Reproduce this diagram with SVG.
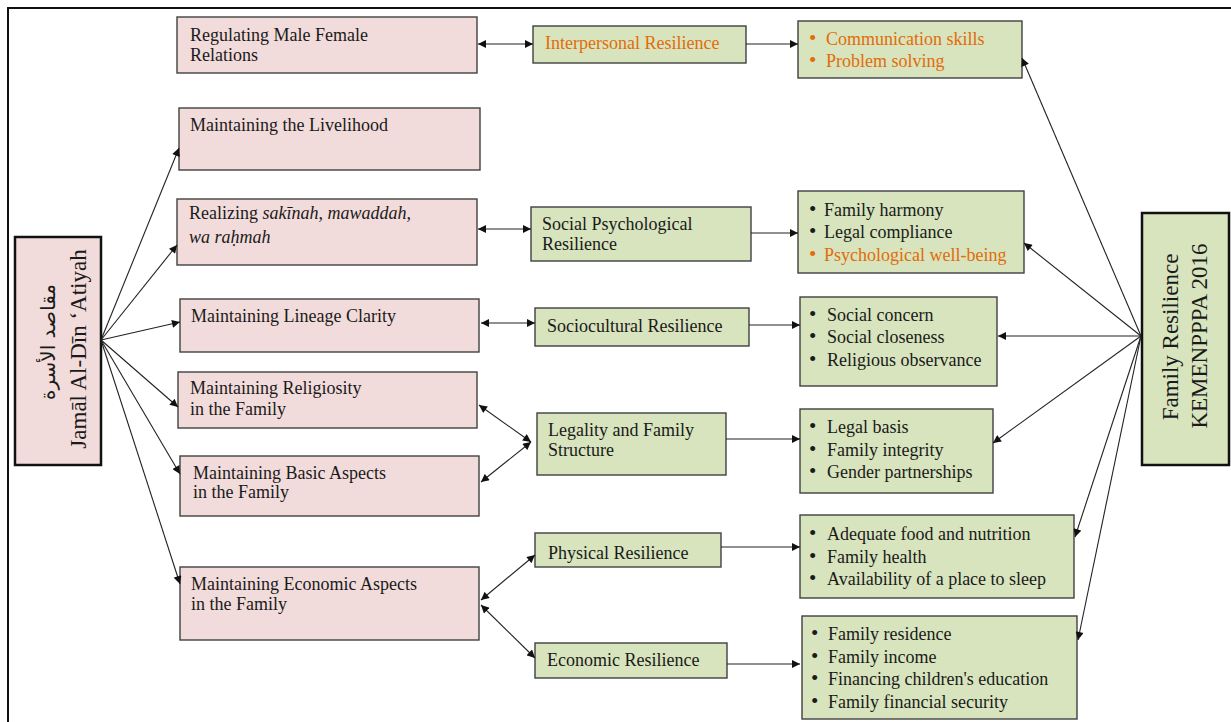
<svg xmlns="http://www.w3.org/2000/svg" width="1231" height="722" viewBox="0 0 1231 722">
<style>
text{font-family:"Liberation Serif","Times New Roman",serif;font-size:18px;fill:#1a1a1a}
.pink{fill:#f2dcdb;stroke:#404040;stroke-width:1.4}
.green{fill:#d7e4bd;stroke:#404040;stroke-width:1.4}
.mainp{fill:#f2dcdb;stroke:#111;stroke-width:2.5}
.maing{fill:#d7e4bd;stroke:#111;stroke-width:2.5}
.or{fill:#e36c09}
.it{font-style:italic}
.big{font-size:23px}
.b{font-size:21px}
#edges line{stroke:#222;stroke-width:1.1;fill:none}
.e1{marker-end:url(#ah)}
.e2{marker-end:url(#ah);marker-start:url(#ah)}
</style>
<defs>
<marker id="ah" viewBox="0 0 10 10" refX="10" refY="5" markerWidth="9" markerHeight="8" markerUnits="userSpaceOnUse" orient="auto-start-reverse">
<path d="M0,0 L10,5 L0,10 z" fill="#111"/>
</marker>
</defs>
<rect width="1231" height="722" fill="#fff"/>
<path d="M8,740 L8,8 L1240,8" fill="none" stroke="#111" stroke-width="2"/>

<g id="n-left">
<rect class="mainp" x="15" y="237" width="86" height="228"/>
<text class="big" transform="translate(55,342) rotate(-90)" text-anchor="middle" style="font-family:'DejaVu Sans','Noto Sans',sans-serif;font-size:20px">مقاصد الأسرة</text>
<text class="big" transform="translate(86,349) rotate(-90)" text-anchor="middle">Jamāl Al-Dīn ‘Atiyah</text>
</g>

<g id="n-regulating">
<rect class="pink" x="177" y="17" width="300" height="56"/>
<text x="190" y="41">Regulating Male Female</text>
<text x="190" y="61">Relations</text>
</g>
<g id="n-livelihood">
<rect class="pink" x="179" y="108" width="301" height="62"/>
<text x="190" y="131">Maintaining the Livelihood</text>
</g>
<g id="n-realizing">
<rect class="pink" x="177" y="199" width="300" height="66"/>
<text x="189" y="219">Realizing <tspan class="it">sakīnah, mawaddah,</tspan></text>
<text x="189" y="243" class="it">wa raḥmah</text>
</g>
<g id="n-lineage">
<rect class="pink" x="180" y="299" width="299" height="53"/>
<text x="191" y="322">Maintaining Lineage Clarity</text>
</g>
<g id="n-religiosity">
<rect class="pink" x="178" y="372" width="299" height="56"/>
<text x="190" y="394">Maintaining Religiosity</text>
<text x="190" y="415">in the Family</text>
</g>
<g id="n-basic">
<rect class="pink" x="180" y="456" width="299" height="60"/>
<text x="193" y="479">Maintaining Basic Aspects</text>
<text x="193" y="498">in the Family</text>
</g>
<g id="n-economic">
<rect class="pink" x="180" y="567" width="299" height="73"/>
<text x="191" y="590">Maintaining Economic Aspects</text>
<text x="191" y="610">in the Family</text>
</g>

<g id="n-interpersonal">
<rect class="green" x="533" y="26" width="213" height="37"/>
<text x="545" y="49" class="or">Interpersonal Resilience</text>
</g>
<g id="n-socpsych">
<rect class="green" x="531" y="207" width="220" height="54"/>
<text x="542" y="230">Social Psychological</text>
<text x="542" y="250">Resilience</text>
</g>
<g id="n-sociocultural">
<rect class="green" x="535" y="308" width="214" height="38"/>
<text x="547" y="332">Sociocultural Resilience</text>
</g>
<g id="n-legality">
<rect class="green" x="537" y="413" width="189" height="62"/>
<text x="548" y="436">Legality and Family</text>
<text x="548" y="456">Structure</text>
</g>
<g id="n-physical">
<rect class="green" x="535" y="533" width="186" height="34"/>
<text x="548" y="559">Physical Resilience</text>
</g>
<g id="n-econres">
<rect class="green" x="535" y="643" width="192" height="35"/>
<text x="547" y="666">Economic Resilience</text>
</g>

<g id="n-list-interpersonal">
<rect class="green" x="798" y="21" width="224" height="57"/>
<text y="45" class="or"><tspan x="809" class="b">•</tspan><tspan x="826">Communication skills</tspan></text>
<text y="67" class="or"><tspan x="809" class="b">•</tspan><tspan x="826">Problem solving</tspan></text>
</g>
<g id="n-list-socpsych">
<rect class="green" x="798" y="191" width="226" height="82"/>
<text y="216"><tspan x="809" class="b">•</tspan><tspan x="824">Family harmony</tspan></text>
<text y="238"><tspan x="809" class="b">•</tspan><tspan x="824">Legal compliance</tspan></text>
<text y="261" class="or"><tspan x="809" class="b">•</tspan><tspan x="824">Psychological well-being</tspan></text>
</g>
<g id="n-list-sociocultural">
<rect class="green" x="800" y="297" width="197" height="89"/>
<text y="321"><tspan x="809" class="b">•</tspan><tspan x="827">Social concern</tspan></text>
<text y="343"><tspan x="809" class="b">•</tspan><tspan x="827">Social closeness</tspan></text>
<text y="366"><tspan x="809" class="b">•</tspan><tspan x="827">Religious observance</tspan></text>
</g>
<g id="n-list-legality">
<rect class="green" x="800" y="409" width="193" height="84"/>
<text y="433"><tspan x="809" class="b">•</tspan><tspan x="827">Legal basis</tspan></text>
<text y="456"><tspan x="809" class="b">•</tspan><tspan x="827">Family integrity</tspan></text>
<text y="478"><tspan x="809" class="b">•</tspan><tspan x="827">Gender partnerships</tspan></text>
</g>
<g id="n-list-physical">
<rect class="green" x="800" y="515" width="274" height="83"/>
<text y="540"><tspan x="809" class="b">•</tspan><tspan x="827">Adequate food and nutrition</tspan></text>
<text y="563"><tspan x="809" class="b">•</tspan><tspan x="827">Family health</tspan></text>
<text y="585"><tspan x="809" class="b">•</tspan><tspan x="827">Availability of a place to sleep</tspan></text>
</g>
<g id="n-list-economic">
<rect class="green" x="802" y="616" width="275" height="103"/>
<text y="640"><tspan x="811" class="b">•</tspan><tspan x="828">Family residence</tspan></text>
<text y="663"><tspan x="811" class="b">•</tspan><tspan x="828">Family income</tspan></text>
<text y="685"><tspan x="811" class="b">•</tspan><tspan x="828">Financing children's education</tspan></text>
<text y="708"><tspan x="811" class="b">•</tspan><tspan x="828">Family financial security</tspan></text>
</g>

<g id="n-right">
<rect class="maing" x="1142" y="213" width="87" height="252"/>
<text class="big" transform="translate(1178,337) rotate(-90)" text-anchor="middle">Family Resilience</text>
<text class="big" transform="translate(1207,336) rotate(-90)" text-anchor="middle">KEMENPPPA 2016</text>
</g>

<g id="edges">
<line class="e1" x1="101" y1="340" x2="179" y2="148"/>
<line class="e1" x1="101" y1="340" x2="177" y2="245"/>
<line class="e1" x1="101" y1="340" x2="180" y2="322"/>
<line class="e1" x1="101" y1="340" x2="178" y2="407"/>
<line class="e1" x1="101" y1="340" x2="180" y2="474"/>
<line class="e1" x1="101" y1="340" x2="180" y2="584"/>

<line class="e2" x1="478" y1="44" x2="533" y2="44"/>
<line class="e2" x1="478" y1="229" x2="531" y2="229"/>
<line class="e2" x1="481" y1="323" x2="535" y2="323"/>
<line class="e2" x1="479" y1="405" x2="531" y2="442"/>
<line class="e2" x1="481" y1="482" x2="531" y2="442"/>
<line class="e2" x1="481" y1="600" x2="535" y2="555"/>
<line class="e2" x1="481" y1="605" x2="535" y2="658"/>

<line class="e1" x1="746" y1="44" x2="798" y2="44"/>
<line class="e1" x1="751" y1="233" x2="798" y2="233"/>
<line class="e1" x1="749" y1="325" x2="800" y2="325"/>
<line class="e1" x1="726" y1="439" x2="800" y2="439"/>
<line class="e1" x1="721" y1="547" x2="800" y2="547"/>
<line class="e1" x1="727" y1="664" x2="800" y2="664"/>

<line class="e1" x1="1141" y1="336" x2="1022" y2="58"/>
<line class="e1" x1="1141" y1="336" x2="1024" y2="243"/>
<line class="e1" x1="1141" y1="336" x2="998" y2="336"/>
<line class="e1" x1="1141" y1="336" x2="993" y2="443"/>
<line class="e1" x1="1141" y1="336" x2="1075" y2="537"/>
<line class="e1" x1="1141" y1="336" x2="1078" y2="640"/>
</g>
</svg>
